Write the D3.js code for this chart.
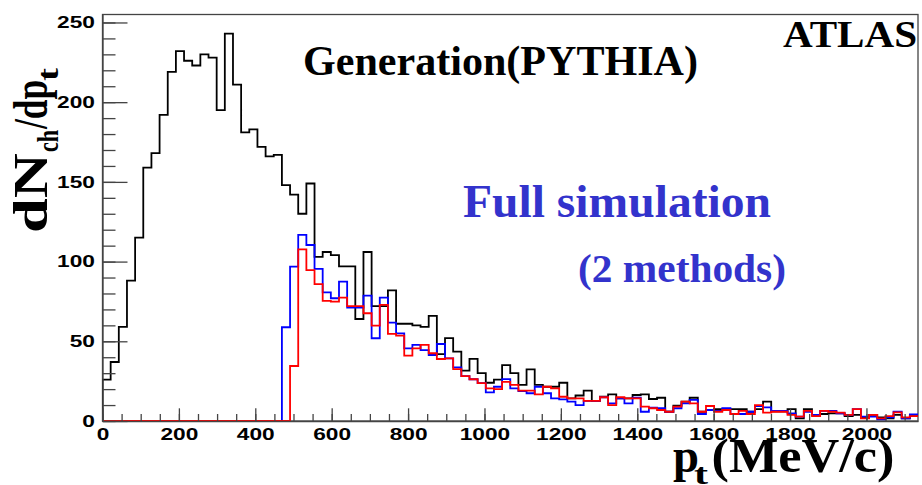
<!DOCTYPE html>
<html>
<head>
<meta charset="utf-8">
<script src="https://cdn.jsdelivr.net/npm/d3@7"></script>
<style>
  html, body { margin: 0; padding: 0; background: #fff; }
  svg { display: block; }
  .tick text { font-family: "Liberation Sans", Arial, sans-serif; font-weight: bold; font-size: 16px; fill: #000; }
  .serif { font-family: "Liberation Serif", "Times New Roman", serif; font-weight: bold; }
</style>
</head>
<body>
<svg id="chart" width="922" height="485"></svg>
<script>
// Histogram binning: 100 bins of p_t (MeV/c)
const nBins = 100;
const binWidth = 21.35;

// Generator-level charged particle counts per bin (PYTHIA)
const generation = [
  26, 37, 59, 88, 115, 159, 168, 192, 219, 232,
  226, 223, 230, 228, 195, 243, 211, 181, 183, 172,
  166, 167, 148, 142, 130, 149, 103, 106, 104, 97,
  97, 64, 106, 72, 72, 82, 61, 61, 60, 59,
  66, 42, 52, 43.5, 31.6, 39, 30, 24, 26, 35,
  30, 22.6, 32.4, 22.6, 21.5, 21.5, 24, 14.2, 16, 19.1,
  12.6, 15.2, 16.7, 14.2, 14.2, 16.3, 16.7, 13.8, 14.6, 5.8,
  9.6, 12.1, 14.6, 5.8, 6.9, 7.5, 7.5, 7.5, 7.5, 5.8,
  7.5, 12.1, 6.1, 6.1, 7.5, 1.7, 7.5, 3.8, 4.4, 4.8,
  4.8, 3.1, 3.8, 2.3, 3.8, 2.3, 1.7, 3.8, 1.7, 3.1
];

// Full simulation, method 1 (blue)
const simMethod1 = [
  0, 0, 0, 0, 0, 0, 0, 0, 0, 0,
  0, 0, 0, 0, 0, 0, 0, 0, 0, 0,
  0, 0, 58.8, 96.8, 116.7, 110.4, 95.4, 80.7, 77, 87.4,
  71.1, 71.1, 78.6, 51.9, 77.4, 61.7, 55, 45.6, 47.7, 44.5,
  41.4, 48.3, 39.3, 33.7, 28.2, 26.2, 23.7, 18, 21.5, 26.3,
  20.5, 18.8, 17.4, 21.5, 17.4, 14.2, 13.6, 12.1, 10, 12.6,
  12.6, 14.9, 11, 14.2, 11, 14.6, 5.8, 8.4, 8, 5.8,
  8, 11, 13.2, 4.4, 6.9, 6.3, 8, 4.4, 4.4, 5.8,
  9.4, 8.6, 6.3, 6.3, 4.8, 2.8, 5.8, 3.8, 6.3, 6.3,
  4.8, 3.8, 7.5, 2.8, 2.8, 1.1, 2.3, 5.8, 1.7, 4.1
];

// Full simulation, method 2 (red)
const simMethod2 = [
  0, 0, 0, 0, 0, 0, 0, 0, 0, 0,
  0, 0, 0, 0, 0, 0, 0, 0, 0, 0,
  0, 0, 0, 34.5, 107.7, 94.7, 85.9, 75.3, 74.9, 77.4,
  72.1, 72.1, 67.6, 59.8, 72.8, 54.6, 53.5, 41, 45.6, 47.7,
  42.5, 38.9, 39.3, 32.6, 28.2, 26.2, 23.7, 20.5, 20, 24.6,
  22.6, 19.1, 19.1, 16.7, 21.5, 20.5, 15.2, 14.2, 14.2, 12.6,
  12.6, 14.9, 10, 14.9, 14.2, 14.2, 9, 8, 6.9, 5.8,
  9, 12.1, 11, 5.8, 9.4, 5.8, 6.9, 4.4, 6.3, 4.4,
  10, 5.2, 5.8, 5.8, 3.8, 2.8, 6.3, 3.1, 6.3, 5.8,
  5.2, 3.8, 7.5, 1.7, 3.8, 1.7, 3.1, 5.4, 2.3, 3.1
];

// Axis ticks
const xMajorTicks = [0, 200, 400, 600, 800, 1000, 1200, 1400, 1600, 1800, 2000];
const xMinorTicks = d3.range(0, 2101, 50);
const yMajorTicks = [0, 50, 100, 150, 200, 250];
const yMinorTicks = d3.range(0, 251, 10);

const svg = d3.select("#chart");
const frameL = 102.5, frameR = 918, frameT = 14.5, frameB = 421;

const x = d3.scaleLinear().domain([0, nBins * binWidth]).range([frameL, frameR]);
const y = d3.scaleLinear().domain([0, 255]).range([frameB, frameT]);

svg.append("defs").append("clipPath").attr("id", "frame-clip")
  .append("rect").attr("x", frameL).attr("y", frameT - 2)
  .attr("width", frameR - frameL).attr("height", frameB - frameT + 4);

// Frame
svg.append("rect")
  .attr("x", frameL).attr("y", frameT)
  .attr("width", frameR - frameL).attr("height", frameB - frameT)
  .attr("fill", "none").attr("stroke", "#444").attr("stroke-width", 1.3);

// Step outline of a histogram
function stepPoints(counts) {
  const pts = [[0, 0]];
  counts.forEach((v, i) => pts.push([i * binWidth, v]));
  pts.push([counts.length * binWidth, counts[counts.length - 1]]);
  return pts;
}
const stepLine = d3.line()
  .x(d => x(d[0])).y(d => y(d[1]))
  .curve(d3.curveStepAfter);

const plot = svg.append("g").attr("clip-path", "url(#frame-clip)");
[
  { counts: generation, color: "#000000" },
  { counts: simMethod1, color: "#0000ff" },
  { counts: simMethod2, color: "#ff0000" }
].forEach(s => {
  plot.append("path")
    .attr("d", stepLine(stepPoints(s.counts)))
    .attr("fill", "none")
    .attr("stroke", s.color)
    .attr("stroke-width", 1.8)
    .attr("stroke-linejoin", "miter");
});

// X axis: major + minor ticks pointing into the frame
const xMinor = svg.append("g").attr("transform", `translate(0,${frameB})`)
  .call(d3.axisBottom(x).tickValues(xMinorTicks).tickSize(-7).tickFormat(""));
const xMajor = svg.append("g").attr("transform", `translate(0,${frameB})`)
  .call(d3.axisBottom(x).tickValues(xMajorTicks).tickSize(-12.7).tickSizeOuter(0)
    .tickPadding(7.6).tickFormat(d3.format("d")));
[xMinor, xMajor].forEach(g => {
  g.select(".domain").attr("stroke", "#444").attr("stroke-width", 1.3);
  g.selectAll(".tick line").attr("stroke", "#444").attr("stroke-width", 1.3);
});
xMinor.select(".domain").remove();
xMajor.selectAll(".tick text").attr("transform", "scale(1.42,1)");

// Y axis
const yMinor = svg.append("g").attr("transform", `translate(${frameL},0)`)
  .call(d3.axisLeft(y).tickValues(yMinorTicks).tickSize(-13).tickFormat(""));
const yMajor = svg.append("g").attr("transform", `translate(${frameL},0)`)
  .call(d3.axisLeft(y).tickValues(yMajorTicks).tickSize(-25).tickSizeOuter(0)
    .tickPadding(5.3).tickFormat(d3.format("d")));
[yMinor, yMajor].forEach(g => {
  g.select(".domain").attr("stroke", "#444").attr("stroke-width", 1.3);
  g.selectAll(".tick line").attr("stroke", "#444").attr("stroke-width", 1.3);
});
yMinor.select(".domain").remove();
yMajor.selectAll(".tick text").attr("transform", "scale(1.42,1)");

// Annotations
function label(txt, px, py, size, len, color) {
  return svg.append("text").attr("class", "serif")
    .attr("x", px).attr("y", py)
    .attr("font-size", size)
    .attr("fill", color || "#000")
    .attr("textLength", len).attr("lengthAdjust", "spacingAndGlyphs")
    .text(txt);
}
label("Generation(PYTHIA)", 303, 75, 42, 395);
label("ATLAS", 783, 46.5, 38, 134);
label("Full simulation", 463, 216.5, 46, 308, "#3333cc");
label("(2 methods)", 578, 281.5, 39, 208, "#3333cc");

// X axis title: p_t(MeV/c)
label("p", 673, 471.5, 48, 26);
label("t", 694, 484, 30, 14);
label("(MeV/c)", 711.5, 471.5, 48, 183);

// Y axis title: dN_ch/dp_t, rotated
const yt = svg.append("g").attr("transform", "translate(47,233) rotate(-90)");
function ylabel(txt, px, py, size, len) {
  yt.append("text").attr("class", "serif")
    .attr("x", px).attr("y", py).attr("font-size", size)
    .attr("textLength", len).attr("lengthAdjust", "spacingAndGlyphs")
    .text(txt);
}
ylabel("dN", 0, 0, 48, 80);
ylabel("ch", 81, 11, 30, 22);
ylabel("/dp", 104, 0, 48, 49);
ylabel("t", 152, 11, 30, 13);
</script>
</body>
</html>
